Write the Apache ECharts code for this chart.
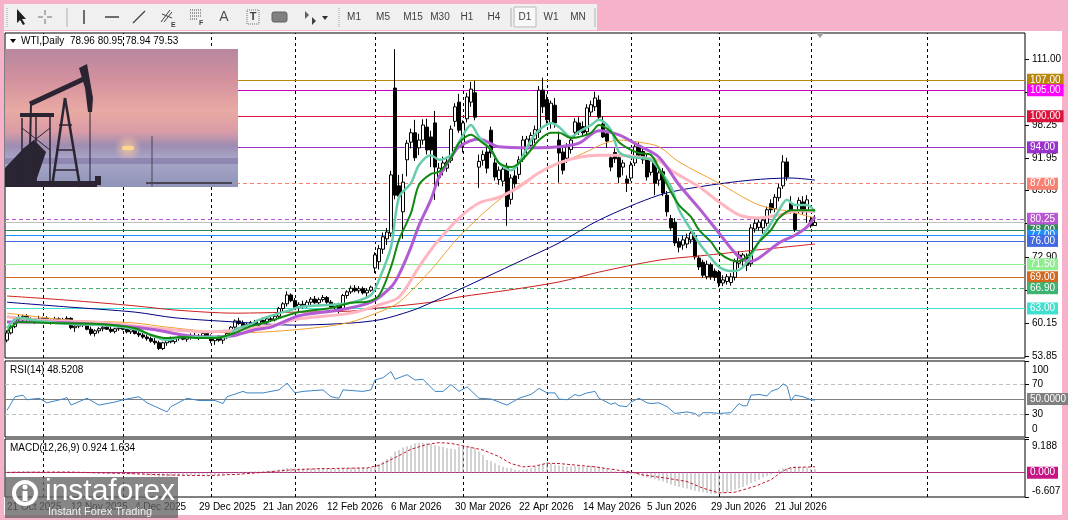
<!DOCTYPE html>
<html>
<head>
<meta charset="utf-8">
<title>WTI Daily</title>
<script src="https://cdn.jsdelivr.net/npm/echarts@6.0.0/dist/echarts.min.js"></script>
<style>
  html, body { margin: 0; padding: 0; background: #f7b2cb; }
  #win { position: absolute; left: 4px; top: 31px; width: 1058px; height: 484px; background: #fff; }
  #tool { position: absolute; left: 4px; top: 4px; width: 593px; height: 26px; background: #f0f0f0; }
  #chart { position: absolute; left: 0; top: 0; width: 1068px; height: 520px; }
</style>
</head>
<body>
<div id="tool"></div>
<div id="win"></div>
<div id="chart"></div>
<script>
// ---- data ----
var dateLabels = ['21 Oct 2025', '12 Nov 2025', '4 Dec 2025', '29 Dec 2025', '21 Jan 2026', '12 Feb 2026',
  '6 Mar 2026', '30 Mar 2026', '22 Apr 2026', '14 May 2026', '5 Jun 2026', '29 Jun 2026', '21 Jul 2026'];
var labelStep = 16;     // bars between two date labels
var totalBars = 255;    // slots on the time axis, incl. the empty space after the last bar
var gridBars = [9, 29, 51, 72, 92, 114, 135, 156, 178, 201, 230];   // dashed month lines

var priceTicks = [53.85, 60.15, 66.60, 72.90, 79.35, 85.65, 91.95, 98.25, 104.55, 111.00];
var rsiTicks = [0, 30, 70, 100];
var macdTicks = [-6.607, 9.188];

// open, high, low, close
var candles = [
  [56.9, 58.8, 56.5, 58.3], [58.3, 59.8, 58.0, 59.5], [59.5, 61.5, 59.2, 61.2], [61.2, 61.9, 60.5, 60.8],
  [60.8, 61.8, 60.4, 61.5], [61.5, 61.9, 60.6, 60.9], [60.9, 61.3, 60.2, 60.5], [60.5, 61.2, 60.0, 61.0],
  [61.0, 61.6, 60.4, 60.6], [60.6, 61.4, 60.2, 61.1], [61.1, 61.5, 60.3, 60.5], [60.5, 61.0, 59.9, 60.7],
  [60.7, 61.4, 60.3, 61.0], [61.0, 61.3, 60.1, 60.4], [60.4, 61.2, 60.0, 60.9], [60.9, 61.5, 60.5, 61.1],
  [61.1, 61.3, 59.0, 59.3], [59.3, 60.0, 58.5, 59.6], [59.6, 60.4, 59.2, 60.1], [60.1, 60.6, 59.4, 59.8],
  [59.8, 60.3, 58.8, 59.0], [59.0, 59.5, 57.8, 58.2], [58.2, 59.0, 57.6, 58.7], [58.7, 59.4, 58.2, 59.1],
  [59.1, 59.8, 58.6, 59.4], [59.4, 60.0, 58.9, 59.0], [59.0, 59.6, 58.3, 58.6], [58.6, 59.3, 58.2, 59.1],
  [59.1, 59.7, 58.7, 59.3], [59.3, 59.9, 58.8, 59.0], [59.0, 59.4, 58.2, 58.5], [58.5, 59.2, 58.1, 58.9],
  [58.9, 59.3, 58.0, 58.2], [58.2, 58.7, 57.5, 57.9], [57.9, 58.4, 57.2, 57.5], [57.5, 58.0, 56.8, 57.2],
  [57.2, 57.6, 56.4, 56.7], [56.7, 57.3, 56.0, 56.4], [56.4, 56.8, 55.0, 55.3], [55.3, 56.6, 55.0, 56.4],
  [56.4, 57.4, 55.8, 57.0], [57.0, 57.6, 56.3, 56.6], [56.6, 57.4, 56.2, 57.2], [57.2, 57.8, 56.8, 57.5],
  [57.5, 58.0, 56.9, 57.1], [57.1, 57.7, 56.6, 57.4], [57.4, 58.2, 57.0, 57.8], [57.8, 58.3, 57.2, 57.5],
  [57.5, 58.1, 56.9, 57.7], [57.7, 58.5, 57.3, 58.2], [58.2, 58.6, 57.4, 57.6], [57.6, 58.0, 56.3, 56.8],
  [56.8, 57.5, 56.0, 57.3], [57.3, 57.9, 56.6, 56.9], [56.9, 57.6, 56.2, 57.4], [57.4, 58.4, 57.1, 58.2],
  [58.2, 59.6, 57.9, 59.4], [59.4, 60.9, 59.1, 60.6], [60.6, 61.2, 59.8, 60.1], [60.1, 60.7, 59.0, 59.3],
  [59.3, 60.2, 58.9, 59.9], [59.9, 60.6, 59.5, 60.3], [60.3, 60.8, 59.6, 59.8], [59.8, 60.9, 59.5, 60.7],
  [60.7, 61.3, 60.1, 60.4], [60.4, 61.2, 60.0, 61.0], [61.0, 61.6, 60.4, 60.8], [60.8, 61.8, 60.5, 61.5],
  [61.5, 63.3, 61.2, 63.0], [63.0, 64.2, 62.5, 63.9], [63.9, 66.3, 63.4, 65.6], [65.6, 65.9, 64.2, 64.5],
  [64.5, 65.0, 62.8, 63.2], [63.2, 64.2, 62.4, 63.8], [63.8, 64.5, 63.0, 63.4], [63.4, 64.6, 63.1, 64.2],
  [64.2, 65.2, 63.6, 64.8], [64.8, 65.4, 63.9, 64.1], [64.1, 65.1, 63.7, 64.7], [64.7, 65.6, 64.3, 65.1],
  [65.1, 65.4, 63.9, 64.2], [64.2, 64.6, 62.9, 63.3], [63.3, 64.0, 62.5, 63.7], [63.7, 64.1, 62.0, 63.0],
  [63.0, 65.8, 62.8, 65.5], [65.5, 66.5, 64.9, 66.2], [66.2, 67.4, 65.8, 66.9], [66.9, 67.5, 66.1, 66.4],
  [66.4, 67.3, 65.9, 66.8], [66.8, 67.2, 65.7, 66.0], [66.0, 66.9, 65.0, 66.5], [66.5, 67.4, 66.2, 67.1],
  [70.8, 73.8, 69.8, 73.3], [72.0, 75.2, 70.5, 74.5], [74.4, 77.6, 73.5, 76.8], [76.4, 78.5, 75.2, 77.7],
  [77.5, 89.5, 76.8, 88.7], [105.4, 112.9, 84.0, 84.8], [86.6, 88.7, 83.4, 84.6], [81.6, 88.9, 76.4, 87.3],
  [91.6, 95.4, 88.4, 94.8], [95.0, 97.6, 93.8, 96.8], [96.8, 99.3, 91.4, 92.0], [93.9, 96.6, 92.5, 95.4],
  [95.4, 99.4, 94.5, 98.3], [97.9, 99.5, 92.6, 93.5], [96.0, 97.2, 90.2, 93.5], [98.7, 101.0, 83.9, 90.2],
  [88.2, 91.0, 86.5, 90.0], [89.6, 92.2, 88.6, 91.0], [90.0, 92.0, 89.3, 91.2], [91.5, 98.2, 91.0, 97.5],
  [99.0, 102.5, 98.0, 101.8], [102.7, 104.3, 96.8, 97.3], [94.5, 99.2, 93.0, 98.7], [99.5, 104.5, 98.8, 103.7],
  [102.7, 106.6, 101.8, 105.2], [104.5, 106.8, 99.2, 99.8], [90.2, 92.6, 86.2, 91.3], [91.5, 93.4, 90.5, 92.6],
  [93.1, 94.0, 89.0, 90.0], [97.3, 98.0, 92.0, 92.9], [91.0, 92.2, 87.6, 88.3], [87.8, 90.3, 86.8, 89.6],
  [87.5, 90.4, 86.5, 89.8], [90.2, 91.0, 78.9, 82.6], [84.0, 88.8, 83.0, 88.1], [88.5, 89.6, 86.0, 87.0],
  [88.8, 92.3, 87.9, 91.6], [91.8, 96.2, 91.2, 95.4], [93.7, 96.2, 92.8, 95.6], [94.4, 96.9, 93.5, 96.3],
  [95.6, 98.2, 94.8, 97.4], [96.9, 105.8, 95.8, 105.0], [105.0, 107.4, 100.6, 101.8], [103.2, 104.2, 98.5, 99.3],
  [98.7, 103.0, 97.6, 102.5], [102.1, 103.5, 97.8, 98.7], [95.4, 97.0, 87.2, 92.9], [93.1, 94.3, 88.8, 89.6],
  [91.9, 94.8, 91.0, 94.1], [93.6, 96.2, 92.8, 95.4], [96.9, 99.6, 95.8, 98.9], [98.7, 99.8, 96.4, 97.1],
  [98.0, 99.0, 96.0, 96.8], [97.0, 102.3, 96.3, 101.6], [100.8, 103.0, 100.0, 102.2], [101.8, 104.7, 101.0, 103.5],
  [103.1, 104.0, 99.2, 99.8], [98.5, 99.9, 95.8, 96.0], [96.6, 97.3, 93.9, 95.2], [92.0, 92.6, 89.4, 90.2],
  [93.0, 93.8, 91.0, 91.8], [92.0, 92.6, 87.1, 88.3], [90.2, 91.6, 88.6, 91.0], [87.9, 88.6, 85.4, 87.1],
  [88.1, 91.3, 87.5, 90.6], [91.0, 94.8, 90.4, 94.1], [94.1, 95.0, 91.8, 92.5], [93.2, 93.8, 90.8, 91.6],
  [92.0, 92.8, 87.6, 88.3], [89.2, 92.0, 88.6, 91.4], [91.2, 92.0, 84.8, 87.1], [87.7, 89.8, 86.6, 89.1],
  [89.3, 90.0, 84.6, 85.2], [84.8, 85.6, 80.7, 81.6], [80.3, 81.0, 77.9, 78.5], [79.6, 80.4, 75.0, 75.6],
  [75.8, 76.6, 73.8, 74.8], [75.2, 77.0, 74.3, 76.2], [75.4, 77.4, 74.6, 76.6], [76.2, 78.3, 75.5, 77.5],
  [77.0, 77.6, 72.4, 72.9], [72.7, 73.2, 70.4, 71.0], [71.9, 72.4, 68.9, 69.4], [69.1, 72.2, 68.6, 71.5],
  [71.4, 71.8, 68.5, 69.1], [70.2, 70.7, 68.3, 69.0], [70.0, 70.4, 67.1, 67.9], [67.9, 69.4, 67.3, 68.5],
  [68.2, 69.6, 67.6, 69.1], [68.0, 69.8, 67.4, 69.1], [69.0, 72.6, 68.4, 72.0], [71.7, 74.0, 70.8, 73.3],
  [72.2, 73.7, 71.2, 73.3], [72.9, 73.6, 70.2, 71.3], [71.6, 79.2, 71.0, 78.5], [78.3, 80.2, 77.6, 79.4],
  [78.6, 80.5, 78.0, 79.6], [78.5, 80.5, 77.4, 80.0], [79.4, 82.6, 78.8, 82.0], [83.2, 84.0, 81.3, 82.0],
  [82.2, 85.0, 81.5, 84.4], [84.3, 87.0, 83.6, 86.2], [86.6, 92.5, 86.0, 91.2], [91.2, 92.0, 87.6, 88.3],
  [83.2, 84.6, 81.2, 81.6], [81.2, 82.0, 77.7, 78.2], [81.9, 84.4, 81.2, 83.8], [83.5, 84.6, 81.0, 81.6],
  [81.7, 84.8, 79.5, 83.9], [80.0, 80.6, 78.5, 78.9], [78.96, 80.95, 78.94, 79.53]
];

// moving averages, read at sampled bars: [bar, price]
var maGreen = [[0, 58.5], [1, 59.4], [3, 60.4], [11, 60.2], [23, 60.0], [32, 59.2], [36, 57.9], [40, 57.3], [44, 57.5],
  [48, 57.3], [52, 57.3], [57, 58.3], [61, 59.6], [65, 60.4], [69, 61.4], [73, 62.3], [81, 63.1], [86, 64.1], [90, 64.3],
  [93, 65.5], [96, 71.0], [98, 76.2], [101, 81.4], [103, 86.8], [106, 88.9], [108, 89.3], [111, 92.0], [113, 94.8],
  [116, 96.4], [118, 95.4], [121, 93.5], [123, 91.0], [126, 90.2], [128, 91.0], [131, 93.5], [133, 95.4], [136, 96.8],
  [138, 96.8], [141, 95.8], [143, 96.0], [146, 96.8], [148, 98.3], [151, 97.0], [153, 95.0], [156, 93.5], [158, 92.9],
  [161, 92.5], [163, 90.0], [166, 85.4], [168, 82.9], [171, 80.6], [173, 78.1], [176, 75.8], [178, 73.7], [181, 72.3],
  [183, 72.1], [186, 73.7], [188, 75.8], [191, 78.1], [193, 80.4], [196, 81.9], [198, 81.9], [202, 81.9]];
var maAqua = [[0, 59.2], [3, 61.2], [8, 60.6], [16, 60.0], [24, 59.8], [32, 59.0], [36, 57.9], [40, 56.9], [44, 57.5],
  [48, 57.5], [55, 57.5], [57, 58.9], [61, 60.0], [63, 60.8], [69, 62.3], [71, 62.7], [73, 63.3], [81, 63.7], [86, 64.1],
  [91, 65.6], [93, 68.5], [96, 74.8], [98, 84.4], [101, 87.1], [103, 90.6], [106, 92.5], [108, 91.6], [111, 92.5],
  [113, 95.0], [116, 98.3], [118, 96.0], [121, 93.5], [123, 91.0], [126, 89.6], [128, 91.0], [131, 95.4], [133, 97.3],
  [136, 98.7], [138, 97.9], [141, 96.0], [143, 97.0], [146, 98.3], [148, 99.3], [151, 97.3], [153, 93.1], [156, 92.1],
  [158, 92.0], [161, 91.6], [163, 89.8], [166, 86.4], [168, 82.0], [171, 78.1], [173, 75.6], [176, 72.7], [178, 71.0],
  [181, 70.2], [183, 70.4], [185, 71.9], [188, 75.8], [191, 79.4], [193, 81.9], [195, 83.9], [197, 82.9], [200, 82.9],
  [202, 81.6]];
var maPurple = [[0, 60.4], [8, 60.4], [25, 59.8], [37, 58.9], [44, 57.9], [50, 57.5], [56, 57.7], [62, 58.9], [66, 59.4],
  [73, 61.6], [83, 62.7], [91, 64.2], [96, 67.1], [98, 69.5], [101, 74.8], [103, 79.0], [106, 84.0], [108, 88.3],
  [111, 92.0], [113, 94.1], [118, 95.6], [123, 94.1], [133, 93.9], [138, 94.1], [143, 94.8], [148, 97.2], [153, 96.4],
  [158, 94.3], [163, 92.1], [168, 86.8], [173, 82.3], [178, 77.5], [183, 72.9], [186, 72.1], [188, 72.7], [193, 75.6],
  [197, 77.1], [200, 78.7], [202, 80.6]];
var maPink = [[0, 61.4], [8, 60.8], [25, 60.2], [37, 59.2], [50, 58.5], [58, 58.9], [67, 59.8], [73, 61.0], [86, 62.1],
  [93, 63.7], [98, 65.2], [103, 71.0], [106, 74.3], [108, 76.2], [113, 80.4], [118, 83.3], [123, 84.4], [128, 86.4],
  [133, 89.1], [138, 91.0], [143, 92.1], [148, 92.5], [153, 92.5], [158, 92.1], [163, 91.4], [166, 89.6], [173, 86.4],
  [178, 83.5], [183, 81.0], [188, 80.4], [193, 81.0], [198, 81.8], [202, 81.6]];
var maOrange = [[0, 62.1], [15, 60.8], [32, 60.2], [40, 59.4], [57, 58.3], [72, 58.9], [85, 60.2], [93, 62.3], [98, 64.2],
  [106, 70.4], [113, 76.8], [123, 83.9], [133, 89.1], [143, 92.5], [153, 95.4], [158, 95.0], [163, 94.1], [168, 91.2],
  [178, 87.1], [188, 82.9], [196, 81.6], [202, 80.4]];
var maNavy = [[0, 64.2], [15, 63.3], [32, 62.3], [42, 61.2], [57, 60.4], [72, 59.8], [86, 60.2], [93, 60.8], [98, 61.8],
  [103, 63.1], [113, 66.6], [128, 72.0], [138, 75.6], [148, 80.0], [163, 84.8], [173, 86.4], [186, 87.7], [196, 88.1],
  [202, 87.7]];
var maRed = [[0, 65.4], [15, 64.6], [32, 63.5], [42, 62.7], [57, 62.1], [72, 62.3], [86, 62.5], [93, 63.1], [106, 64.2],
  [113, 65.2], [126, 66.6], [138, 68.1], [148, 70.0], [163, 72.3], [173, 73.1], [188, 74.3], [202, 75.4]];

// horizontal levels drawn on the price panel
var levelPrices = [107, 105, 100, 94, 87, 80.25, 78, 77, 76, 71.5, 69, 66.9, 63];

// RSI(14), read at sampled bars: [bar, value]
var rsi = [[0, 35], [2, 53], [4, 55], [5, 49], [8, 51], [10, 45], [14, 50], [15, 52], [16, 42], [20, 51], [23, 42],
  [27, 46], [29, 49], [33, 53], [35, 45], [40, 33], [41, 40], [45, 51], [48, 48], [52, 48], [54, 44], [55, 53], [59, 60],
  [60, 58], [64, 58], [66, 60], [68, 62], [70, 71], [72, 58], [74, 60], [79, 62], [81, 53], [83, 51], [84, 62], [89, 60],
  [91, 62], [92, 75], [94, 78], [96, 86], [97, 76], [100, 82], [102, 75], [104, 76], [107, 60], [109, 60], [111, 69],
  [113, 60], [115, 66], [118, 51], [121, 50], [125, 42], [128, 51], [131, 56], [133, 64], [135, 58], [137, 58], [138, 50],
  [140, 49], [142, 56], [143, 54], [145, 58], [147, 60], [148, 51], [151, 43], [152, 45], [153, 41], [155, 40], [156, 46],
  [158, 51], [160, 45], [161, 44], [163, 45], [165, 40], [167, 31], [170, 33], [172, 31], [173, 27], [174, 32], [176, 32],
  [178, 31], [181, 32], [183, 44], [184, 41], [185, 41], [186, 55], [188, 56], [190, 54], [191, 60], [193, 64], [194, 70],
  [195, 67], [196, 48], [197, 55], [199, 53], [201, 49], [202, 48.52]];

// MACD(12,26,9) main values, one per bar
var macdMain = [
  0.2, 0.3, 0.4, 0.4, 0.5, 0.5, 0.4, 0.4, 0.3, 0.3, 0.3, 0.2, 0.2, 0.2, 0.2,
  0.2, 0.0, -0.1, -0.1, -0.1, -0.2, -0.3, -0.3, -0.3, -0.3, -0.3, -0.3, -0.4, -0.3, -0.3,
  -0.4, -0.4, -0.4, -0.5, -0.6, -0.7, -0.8, -0.9, -1.1, -1.0, -1.0, -1.0, -0.9, -0.9, -0.8,
  -0.7, -0.7, -0.6, -0.6, -0.5, -0.5, -0.6, -0.6, -0.6, -0.5, -0.4, -0.2, 0.0, 0.2, 0.3,
  0.3, 0.4, 0.4, 0.4, 0.5, 0.6, 0.6, 0.7, 0.9, 1.1, 1.3, 1.3, 1.2, 1.2, 1.2,
  1.2, 1.3, 1.2, 1.3, 1.3, 1.2, 1.1, 1.1, 1.0, 1.2, 1.3, 1.4, 1.4, 1.4, 1.3, 1.3, 1.4,
  1.6, 2.3, 3.0, 3.7, 4.4, 5.7, 6.2, 6.9, 7.2, 7.5, 8.0, 8.1, 8.2, 8.0, 7.8, 7.5,
  7.3, 7.1, 6.7, 6.5, 6.4, 7.1, 7.0, 7.2, 7.1, 6.7, 5.8, 4.8, 3.5, 3.1, 2.6, 2.1,
  1.6, 1.3, 1.2, 0.9, 0.7, 0.9, 1.1, 1.3, 1.6, 2.0, 2.4, 2.9, 2.6, 2.2, 2.0, 1.9,
  1.7, 1.7, 1.8, 1.8, 1.7, 1.8, 1.9, 1.9, 1.7, 1.4, 1.0, 0.6, 0.4, 0.2, 0.0,
  -0.3, -0.4, -0.5, -0.7, -1.0, -1.3, -1.5, -1.8, -2.1, -2.4, -2.8, -3.2, -3.6, -3.9, -4.1,
  -4.3, -4.6, -4.9, -5.2, -5.3, -5.5, -5.7, -5.8, -5.8, -5.6, -5.4, -5.0, -4.6, -4.2, -3.9,
  -3.3, -2.8, -2.4, -1.9, -1.3, -0.9, -0.4, 0.1, 0.8, 1.2, 1.3, 1.5, 1.7, 1.6, 1.5, 1.4, 1.1, 0.924
];
// MACD signal, read at sampled bars: [bar, value]
var macdSignal = [[0, 0.1], [15, 0.2], [30, -0.2], [40, -0.6], [50, -0.8], [58, -0.4], [64, 0.1], [70, 0.7], [78, 1.1],
  [90, 1.3], [93, 2.0], [97, 4.1], [101, 6.4], [105, 7.7], [108, 8.2], [111, 8.0], [115, 7.1], [119, 6.2], [123, 4.4],
  [126, 2.5], [129, 1.6], [132, 1.8], [135, 2.6], [138, 2.5], [141, 2.2], [147, 1.6], [154, 0.5], [156, 0.2], [159, -0.6],
  [165, -1.5], [170, -2.4], [174, -4.2], [178, -5.5], [182, -5.3], [187, -3.7], [191, -1.9], [194, 0.5], [196, 1.4],
  [202, 1.634]];

// ---- styles ----
var FONT = 'Liberation Sans, Arial, sans-serif';
var levelLine = ['#b8860b', '#c800c8', '#dc143c', '#9932cc', '#fa8072', '#ba55d3', '#2e8b57', '#1e90ff', '#4169e1',
  '#90ee90', '#d2691e', '#3cb371', '#40e0d0'];
var levelBox = ['#b8860b', '#ff00ff', '#dc143c', '#9932cc', '#fa8072', '#ba55d3', '#2e8b57', '#1e90ff', '#4169e1',
  '#90ee90', '#d2691e', '#3cb371', '#40e0d0'];
var levelDashed = [false, false, false, false, true, true, false, false, false, false, false, true, false];

var categories = [];
for (var i = 0; i < totalBars; i++) categories.push(String(i));

var lastBar = candles[candles.length - 1];

function boxLabel(text, bg) {
  return { show: true, position: 'end', distance: 2, formatter: text, color: '#fff', backgroundColor: bg,
    padding: [1, 3, 0, 3], fontSize: 10, lineHeight: 11, fontFamily: FONT };
}

function monthLines() {
  return gridBars.map(function (b) {
    return { xAxis: b, lineStyle: { color: '#000', type: [3, 3], width: 1 }, label: { show: false } };
  });
}

var priceMarks = monthLines();
levelPrices.forEach(function (p, k) {
  priceMarks.push({ yAxis: p, lineStyle: { color: levelLine[k], width: 1, type: levelDashed[k] ? [4, 3] : 'solid' },
    label: boxLabel(p.toFixed(2), levelBox[k]) });
});
priceMarks.push({ yAxis: lastBar[3], lineStyle: { color: '#c0c0c0', width: 1, type: 'solid' }, label: { show: false } });

var rsiMarks = monthLines().concat([
  { yAxis: 70, lineStyle: { color: '#c0c0c0', type: [4, 3], width: 1 }, label: { show: false } },
  { yAxis: 30, lineStyle: { color: '#c0c0c0', type: [4, 3], width: 1 }, label: { show: false } },
  { yAxis: 50, lineStyle: { color: '#808080', type: 'solid', width: 1 }, label: boxLabel('50.0000', '#808080') }
]);
var macdMarks = monthLines().concat([
  { yAxis: 0, lineStyle: { color: '#b0307f', type: 'solid', width: 1 }, label: boxLabel('0.000', '#c71585') }
]);

function xAxisFor(g, withLabels) {
  return {
    type: 'category', gridIndex: g, data: categories, boundaryGap: true,
    axisLine: { show: false }, axisTick: { show: false }, splitLine: { show: false },
    axisLabel: withLabels ? {
      show: true, margin: 5, align: 'left', color: '#000', fontSize: 10, fontFamily: FONT,
      interval: function (idx) { return idx % labelStep === 0 && idx / labelStep < dateLabels.length; },
      formatter: function (v, idx) { return dateLabels[Math.round(idx / labelStep)] || ''; }
    } : { show: false }
  };
}

function yAxisFor(g, min, max, ticks, fmt, rich) {
  return {
    type: 'value', gridIndex: g, position: 'right', min: min, max: max,
    axisLine: { show: false }, splitLine: { show: false },
    axisTick: { show: true, length: 4, customValues: ticks, lineStyle: { color: '#000' } },
    axisLabel: { customValues: ticks, margin: 7, color: '#000', fontSize: 10, fontFamily: FONT, formatter: fmt, rich: rich }
  };
}

function maSeries(data, color, width) {
  return { type: 'line', xAxisIndex: 0, yAxisIndex: 0, data: data, symbol: 'none', smooth: 0.3, silent: true,
    lineStyle: { color: color, width: width }, z: 3 };
}

var frame = { show: true, borderColor: '#000', borderWidth: 1, backgroundColor: 'transparent' };

// ---- decoration: toolbar, photo, logo, captions ----
var ink = '#404040';
var toolbar = [
  { type: 'line', shape: { x1: 7, y1: 8, x2: 7, y2: 27 }, style: { stroke: '#a0a0a0', lineDash: [1, 1] } },
  { type: 'polygon', shape: { points: [[17, 9], [17, 23], [20, 20], [23, 25], [25, 24], [22, 19], [26, 19]] }, style: { fill: '#202020' } },
  { type: 'line', shape: { x1: 38, y1: 17, x2: 43, y2: 17 }, style: { stroke: '#707070' } },
  { type: 'line', shape: { x1: 47, y1: 17, x2: 52, y2: 17 }, style: { stroke: '#707070' } },
  { type: 'line', shape: { x1: 45, y1: 10, x2: 45, y2: 15 }, style: { stroke: '#707070' } },
  { type: 'line', shape: { x1: 45, y1: 19, x2: 45, y2: 24 }, style: { stroke: '#707070' } },
  { type: 'line', shape: { x1: 67, y1: 8, x2: 67, y2: 27 }, style: { stroke: '#b0b0b0' } },
  { type: 'line', shape: { x1: 84, y1: 10, x2: 84, y2: 24 }, style: { stroke: ink, lineWidth: 1.5 } },
  { type: 'line', shape: { x1: 105, y1: 17, x2: 119, y2: 17 }, style: { stroke: ink, lineWidth: 1.5 } },
  { type: 'line', shape: { x1: 133, y1: 23, x2: 145, y2: 11 }, style: { stroke: ink, lineWidth: 1.2 } },
  { type: 'line', shape: { x1: 161, y1: 22, x2: 170, y2: 10 }, style: { stroke: ink } },
  { type: 'line', shape: { x1: 164, y1: 22, x2: 172, y2: 12 }, style: { stroke: ink } },
  { type: 'line', shape: { x1: 162, y1: 14, x2: 172, y2: 18 }, style: { stroke: ink } },
  { type: 'text', x: 171, y: 25, style: { text: 'E', fill: ink, font: 'bold 7px ' + FONT, textVerticalAlign: 'middle', verticalAlign: 'middle' } },
  { type: 'line', shape: { x1: 190, y1: 10, x2: 202, y2: 10 }, style: { stroke: ink, lineDash: [1, 1] } },
  { type: 'line', shape: { x1: 190, y1: 13, x2: 202, y2: 13 }, style: { stroke: ink, lineDash: [1, 1] } },
  { type: 'line', shape: { x1: 190, y1: 16, x2: 202, y2: 16 }, style: { stroke: ink, lineDash: [1, 1] } },
  { type: 'line', shape: { x1: 190, y1: 19, x2: 198, y2: 19 }, style: { stroke: ink, lineDash: [1, 1] } },
  { type: 'text', x: 199, y: 23, style: { text: 'F', fill: ink, font: 'bold 7px ' + FONT, textVerticalAlign: 'middle', verticalAlign: 'middle' } },
  { type: 'text', x: 224, y: 17, style: { text: 'A', fill: '#505050', font: '14px ' + FONT, textAlign: 'center', align: 'center', textVerticalAlign: 'middle', verticalAlign: 'middle' } },
  { type: 'rect', shape: { x: 247, y: 10, width: 12, height: 14 }, style: { fill: 'none', stroke: '#707070', lineDash: [1, 1] } },
  { type: 'text', x: 253, y: 17, style: { text: 'T', fill: ink, font: 'bold 11px ' + FONT, textAlign: 'center', align: 'center', textVerticalAlign: 'middle', verticalAlign: 'middle' } },
  { type: 'rect', shape: { x: 272, y: 12, width: 15, height: 10, r: 2 }, style: { fill: '#808080', stroke: '#606060' } },
  { type: 'polygon', shape: { points: [[305, 11], [309, 15], [305, 19]] }, style: { fill: '#606060' } },
  { type: 'polygon', shape: { points: [[312, 17], [316, 21], [312, 25]] }, style: { fill: '#404040' } },
  { type: 'polygon', shape: { points: [[322, 16], [328, 16], [325, 20]] }, style: { fill: '#303030' } },
  { type: 'line', shape: { x1: 339, y1: 8, x2: 339, y2: 27 }, style: { stroke: '#a0a0a0', lineDash: [1, 1] } },
  { type: 'line', shape: { x1: 511, y1: 8, x2: 511, y2: 27 }, style: { stroke: '#b0b0b0' } },
  { type: 'rect', shape: { x: 514, y: 7, width: 22, height: 20 }, style: { fill: '#f8f8f8', stroke: '#b8b8b8' } },
  { type: 'line', shape: { x1: 595, y1: 8, x2: 595, y2: 27 }, style: { stroke: '#b0b0b0' } }
];
[['M1', 354], ['M5', 383], ['M15', 413], ['M30', 440], ['H1', 467], ['H4', 494], ['D1', 525], ['W1', 551], ['MN', 578]]
  .forEach(function (t) {
    toolbar.push({ type: 'text', x: t[1], y: 17, style: { text: t[0], fill: '#404040', font: '10px ' + FONT,
      textAlign: 'center', align: 'center', textVerticalAlign: 'middle', verticalAlign: 'middle' } });
  });

var sil = '#2b2533';
var photo = [
  { type: 'rect', shape: { x: 5, y: 49, width: 233, height: 138 },
    style: { fill: new echarts.graphic.LinearGradient(0, 0, 0, 1, [
      { offset: 0, color: '#b7879f' }, { offset: 0.22, color: '#d3919e' }, { offset: 0.45, color: '#e9a9a3' },
      { offset: 0.6, color: '#d99ca6' }, { offset: 0.7, color: '#9d8db2' }, { offset: 0.8, color: '#aaa7c9' },
      { offset: 1, color: '#8e94b8' }]) } },
  { type: 'circle', shape: { cx: 128, cy: 148, r: 14 },
    style: { fill: new echarts.graphic.RadialGradient(0.5, 0.5, 0.5, [
      { offset: 0, color: 'rgba(255,214,150,0.8)' }, { offset: 1, color: 'rgba(255,190,160,0)' }]) } },
  { type: 'rect', shape: { x: 122, y: 146, width: 12, height: 4, r: 2 }, style: { fill: '#ffd890' } },
  { type: 'rect', shape: { x: 5, y: 158, width: 233, height: 6 }, style: { fill: 'rgba(110,100,150,0.45)' } },
  { type: 'polygon', shape: { points: [[5, 187], [5, 168], [22, 150], [34, 140], [46, 152], [34, 187]] }, style: { fill: sil } },
  { type: 'line', shape: { x1: 22, y1: 118, x2: 22, y2: 187 }, style: { stroke: sil, lineWidth: 1.5 } },
  { type: 'line', shape: { x1: 36, y1: 116, x2: 36, y2: 187 }, style: { stroke: sil, lineWidth: 1.5 } },
  { type: 'line', shape: { x1: 50, y1: 116, x2: 50, y2: 187 }, style: { stroke: sil, lineWidth: 1.5 } },
  { type: 'line', shape: { x1: 20, y1: 115, x2: 54, y2: 115 }, style: { stroke: sil, lineWidth: 4 } },
  { type: 'line', shape: { x1: 22, y1: 128, x2: 50, y2: 150 }, style: { stroke: sil, lineWidth: 1 } },
  { type: 'line', shape: { x1: 50, y1: 128, x2: 22, y2: 150 }, style: { stroke: sil, lineWidth: 1 } },
  { type: 'line', shape: { x1: 30, y1: 104, x2: 88, y2: 77 }, style: { stroke: sil, lineWidth: 5 } },
  { type: 'polygon', shape: { points: [[79, 68], [87, 64], [93, 98], [92, 112], [88, 112], [85, 88]] }, style: { fill: sil } },
  { type: 'line', shape: { x1: 52, y1: 187, x2: 65, y2: 98 }, style: { stroke: sil, lineWidth: 2.5 } },
  { type: 'line', shape: { x1: 80, y1: 187, x2: 65, y2: 98 }, style: { stroke: sil, lineWidth: 2.5 } },
  { type: 'line', shape: { x1: 59, y1: 125, x2: 72, y2: 125 }, style: { stroke: sil, lineWidth: 1.5 } },
  { type: 'line', shape: { x1: 56, y1: 150, x2: 75, y2: 150 }, style: { stroke: sil, lineWidth: 1.5 } },
  { type: 'line', shape: { x1: 54, y1: 170, x2: 78, y2: 170 }, style: { stroke: sil, lineWidth: 1.5 } },
  { type: 'line', shape: { x1: 31, y1: 104, x2: 30, y2: 150 }, style: { stroke: sil, lineWidth: 2 } },
  { type: 'line', shape: { x1: 90, y1: 112, x2: 90, y2: 187 }, style: { stroke: sil, lineWidth: 1 } },
  { type: 'rect', shape: { x: 5, y: 181, width: 92, height: 6 }, style: { fill: sil } },
  { type: 'rect', shape: { x: 95, y: 176, width: 6, height: 9 }, style: { fill: sil } },
  { type: 'line', shape: { x1: 152, y1: 136, x2: 152, y2: 187 }, style: { stroke: '#4a4555', lineWidth: 1 } },
  { type: 'line', shape: { x1: 146, y1: 183, x2: 232, y2: 183 }, style: { stroke: '#4a4555', lineWidth: 2 } }
];

var logo = [
  { type: 'rect', shape: { x: 5, y: 477, width: 173, height: 41 }, style: { fill: 'rgba(100,100,100,0.78)' } },
  { type: 'circle', shape: { cx: 25, cy: 493, r: 11 }, style: { fill: 'none', stroke: '#fff', lineWidth: 4 } },
  { type: 'circle', shape: { cx: 25, cy: 487, r: 2.5 }, style: { fill: '#fff' } },
  { type: 'rect', shape: { x: 22.5, y: 491, width: 5, height: 10 }, style: { fill: '#fff' } },
  { type: 'text', x: 45, y: 492, style: { text: 'instaforex', fill: '#fff', font: '30px ' + FONT, textVerticalAlign: 'middle', verticalAlign: 'middle' } },
  { type: 'text', x: 48, y: 512, style: { text: 'Instant Forex Trading', fill: '#f0f0f0', font: '11px ' + FONT, textVerticalAlign: 'middle', verticalAlign: 'middle' } }
];

var captions = [
  { type: 'polygon', shape: { points: [[10, 39], [16, 39], [13, 43]] }, style: { fill: '#000' } },
  { type: 'text', x: 21, y: 41, style: { text: 'WTI,Daily  78.96 80.95 78.94 79.53', fill: '#000', font: '10px ' + FONT, textVerticalAlign: 'middle', verticalAlign: 'middle' } },
  { type: 'text', x: 10, y: 370, style: { text: 'RSI(14) 48.5208', fill: '#000', font: '10px ' + FONT, textVerticalAlign: 'middle', verticalAlign: 'middle' } },
  { type: 'text', x: 10, y: 448, style: { text: 'MACD(12,26,9) 0.924 1.634', fill: '#000', font: '10px ' + FONT, textVerticalAlign: 'middle', verticalAlign: 'middle' } },
  { type: 'polygon', shape: { points: [[816, 33], [824, 33], [820, 38]] }, style: { fill: '#a0a0a0' } }
];

var decoration = toolbar.concat(photo, logo, captions).map(function (el) { el.z = 100; el.silent = true; return el; });

// ---- chart ----
var chart = echarts.init(document.getElementById('chart'));
chart.setOption({
  animation: false,
  backgroundColor: 'transparent',
  textStyle: { fontFamily: FONT },
  grid: [
    Object.assign({ left: 5, width: 1020, top: 33, height: 325 }, frame),
    Object.assign({ left: 5, width: 1020, top: 361, height: 76 }, frame),
    Object.assign({ left: 5, width: 1020, top: 439, height: 58 }, frame)
  ],
  xAxis: [xAxisFor(0, false), xAxisFor(1, false), xAxisFor(2, true)],
  yAxis: [
    yAxisFor(0, 53.47, 116.0, priceTicks, function (v) { return v.toFixed(2); }),
    yAxisFor(1, 0, 100, rsiTicks, function (v) {
      if (v === 100) return '{top|100}';
      if (v === 0) return '{bot|0}';
      return String(v);
    }, { top: { fontSize: 10, color: '#000', padding: [18, 0, 0, 0] }, bot: { fontSize: 10, color: '#000', padding: [0, 0, 16, 0] } }),
    yAxisFor(2, -6.607, 9.188, macdTicks, function (v) {
      return v > 0 ? '{top|' + v.toFixed(3) + '}' : '{bot|' + v.toFixed(3) + '}';
    }, { top: { fontSize: 10, color: '#000', padding: [14, 0, 0, 0] }, bot: { fontSize: 10, color: '#000', padding: [0, 0, 12, 0] } })
  ],
  series: [
    {
      type: 'candlestick', xAxisIndex: 0, yAxisIndex: 0, z: 2, silent: true, barWidth: 3,
      data: candles.map(function (c) { return [c[0], c[3], c[2], c[1]]; }),
      itemStyle: { color: '#fff', color0: '#000', borderColor: '#000', borderColor0: '#000', borderWidth: 1 },
      markLine: { silent: true, symbol: ['none', 'none'], animation: false, data: priceMarks, z: 1 }
    },
    maSeries(maRed, '#cc1f1f', 1),
    maSeries(maNavy, '#000080', 1),
    maSeries(maOrange, '#f0a030', 1),
    maSeries(maPink, '#ffb6c1', 3),
    maSeries(maPurple, '#b25cd3', 3),
    maSeries(maAqua, '#66cdaa', 2.5),
    maSeries(maGreen, '#118a11', 2),
    {
      type: 'line', xAxisIndex: 1, yAxisIndex: 1, data: rsi, symbol: 'none', silent: true, z: 3,
      lineStyle: { color: '#3f86c6', width: 1 },
      markLine: { silent: true, symbol: ['none', 'none'], animation: false, data: rsiMarks, z: 1 }
    },
    {
      type: 'bar', xAxisIndex: 2, yAxisIndex: 2, data: macdMain, barWidth: 1, silent: true, z: 2,
      itemStyle: { color: '#a8a8a8' },
      markLine: { silent: true, symbol: ['none', 'none'], animation: false, data: macdMarks, z: 1 }
    },
    {
      type: 'line', xAxisIndex: 2, yAxisIndex: 2, data: macdSignal, symbol: 'none', silent: true, z: 3,
      lineStyle: { color: '#c01830', width: 1, type: [3, 2] }
    }
  ],
  graphic: { elements: decoration }
});
</script>
</body>
</html>
